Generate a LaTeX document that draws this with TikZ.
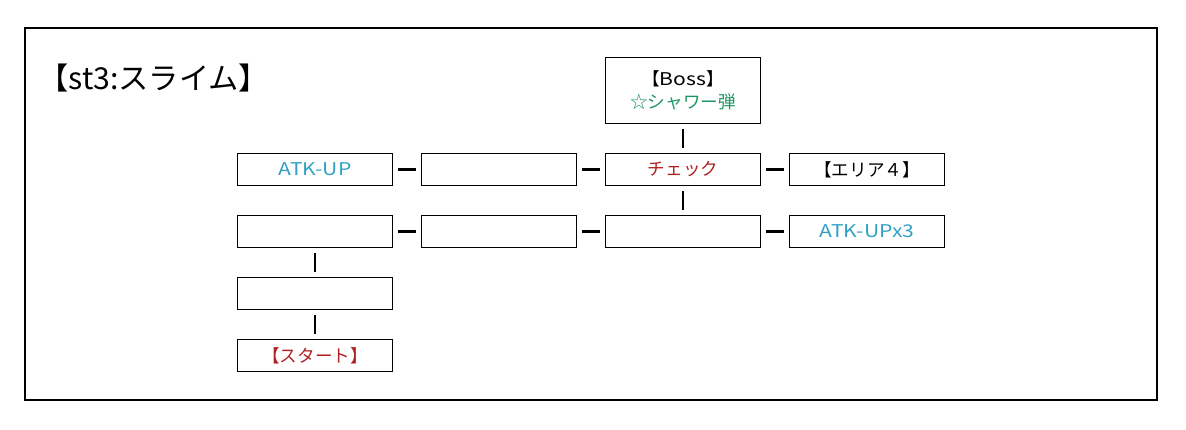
\documentclass[tikz,border=0pt]{standalone}
\usepackage{fontspec}
\setmainfont{Noto Sans CJK JP}
\newfontfamily\widefont[FakeStretch=1.2]{Noto Sans CJK JP}
\usetikzlibrary{positioning}

\definecolor{atkcol}{RGB}{48,160,196}
\definecolor{bosscol}{RGB}{30,150,100}
\definecolor{chkcol}{RGB}{176,32,32}

\begin{document}
\begin{tikzpicture}[node distance=0.75cm and 0.725cm,
  room/.style={draw,line width=0.9pt,outer sep=0pt,minimum width=3.875cm,
    minimum height=0.8cm,inner sep=0pt,font=\fontsize{12.5}{15}\selectfont},
  link/.style={line width=1.5pt,shorten <=0.14cm,shorten >=0.14cm}]
\useasboundingbox (0,0) rectangle (29.65,10.725);
\draw[line width=1.5pt] (0.625,0.725) rectangle (28.925,10.025);
\node (title) [anchor=west,inner sep=0pt,font=\fontsize{21.5}{25}\selectfont] at (0.95,8.775) {【st3:スライム】};

\node (chk) [room,text=chkcol] at (17.075,6.4875) {チェック};
\node (boss) [room,above=of chk,minimum height=1.65cm,align=center]
  {【{\widefont Boss}】\\[1pt]\textcolor{bosscol}{☆シャワー弾}};
\node (r2b) [room,left=of chk] {};
\node (atk) [room,left=of r2b,text=atkcol] {\widefont ATK-UP};
\node (area) [room,right=of chk] {【エリア４】};
\node (r3c) [room,below=of chk] {};
\node (r3b) [room,left=of r3c] {};
\node (r3a) [room,left=of r3b] {};
\node (atk3) [room,right=of r3c,text=atkcol] {\widefont ATK-UPx3};
\node (r4a) [room,below=of r3a] {};
\node (start) [room,below=of r4a,text=chkcol] {【スタート】};

\draw[link] (boss) -- (chk);
\draw[link] (atk) -- (r2b);
\draw[link] (r2b) -- (chk);
\draw[link] (chk) -- (area);
\draw[link] (chk) -- (r3c);
\draw[link] (r3a) -- (r3b);
\draw[link] (r3b) -- (r3c);
\draw[link] (r3c) -- (atk3);
\draw[link] (r3a) -- (r4a);
\draw[link] (r4a) -- (start);
\end{tikzpicture}
\end{document}
